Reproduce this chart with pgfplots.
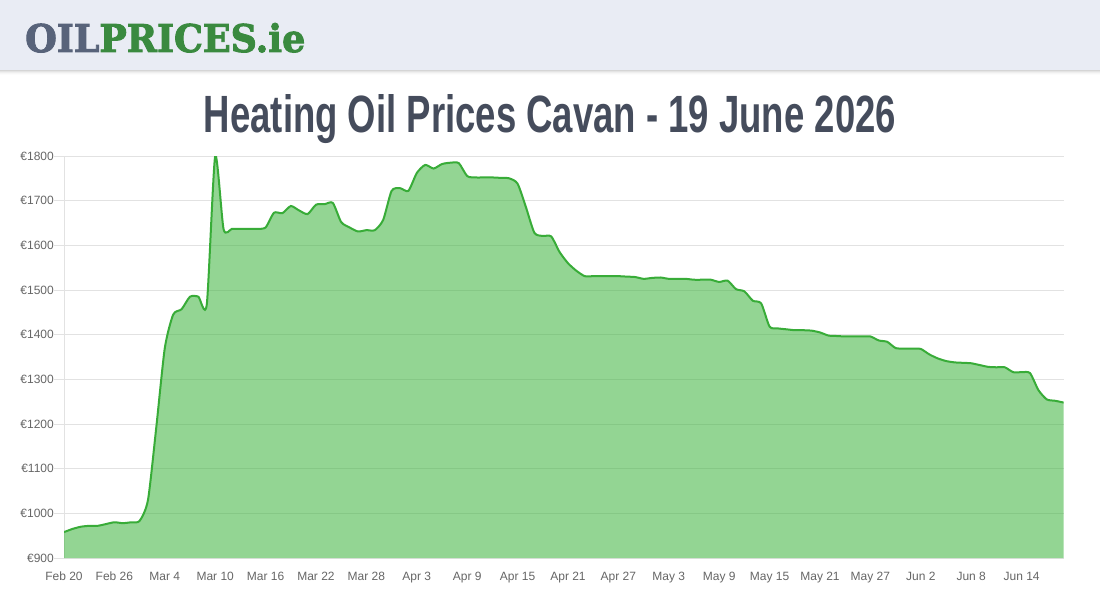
\documentclass[border=0pt]{standalone}
\usepackage{pgfplots}
\pgfplotsset{compat=1.18}
\usepackage{fontspec}
\setmainfont{Liberation Sans}
\newfontfamily\logofont[FakeBold=2.5]{DejaVu Serif}
\definecolor{hdr}{RGB}{233,236,244}
\definecolor{logogray}{RGB}{88,99,122}
\definecolor{logogreen}{RGB}{58,138,63}
\definecolor{titlecol}{RGB}{69,76,92}
\definecolor{tickcol}{RGB}{102,102,102}
\definecolor{gridcol}{RGB}{226,226,226}
\definecolor{linecol}{RGB}{56,172,56}
\definecolor{fillcol}{RGB}{60,180,60}
\pgfplotstableread{
d v
0 958
1 965
2 970
3 972
4 972
5 976
6 980
7 978
8 980
9 983
10 1030
11 1195
12 1370
13 1445
14 1457
15 1485
16 1485
17 1468
18 1800
19 1636
20 1637
21 1637
22 1637
23 1637
24 1640
25 1673
26 1672
27 1688
28 1678
29 1670
30 1691
31 1692
32 1695
33 1652
34 1640
35 1631
36 1634
37 1634
38 1657
39 1722
40 1728
41 1722
42 1762
43 1780
44 1772
45 1782
46 1785
47 1784
48 1755
49 1752
50 1752
51 1752
52 1751
53 1750
54 1738
55 1685
56 1628
57 1621
58 1620
59 1585
60 1560
61 1543
62 1531
63 1531
64 1531
65 1531
66 1531
67 1530
68 1529
69 1525
70 1527
71 1528
72 1525
73 1525
74 1525
75 1523
76 1523
77 1523
78 1518
79 1521
80 1502
81 1497
82 1476
83 1470
84 1418
85 1414
86 1412
87 1410
88 1410
89 1409
90 1405
91 1398
92 1397
93 1396
94 1396
95 1396
96 1396
97 1387
98 1384
99 1370
100 1369
101 1369
102 1368
103 1356
104 1347
105 1341
106 1338
107 1337
108 1336
109 1332
110 1328
111 1327
112 1327
113 1316
114 1316
115 1314
116 1276
117 1255
118 1252
119 1248
}\pricedata
\begin{document}
\begin{tikzpicture}
\path[fill=white] (0pt,0pt) rectangle (1100pt,600pt);
% header
\foreach \i/\o in {1/0.06,2/0.045,3/0.03,4/0.02,5/0.01}{
  \fill[black,opacity=\o] (0pt,{530pt-\i pt}) rectangle (1100pt,530pt);
}
\fill[hdr] (0pt,530pt) rectangle (1100pt,600pt);
\node[anchor=base west,inner sep=0pt] at (25pt,548pt)
  {\resizebox{280pt}{29pt}{\logofont\bfseries\textcolor{logogray}{OIL}\textcolor{logogreen}{PRICES.ie}}};
\node[anchor=base,inner sep=0pt] at (550pt,467pt)
  {\resizebox{692pt}{38pt}{\bfseries\color{titlecol}Heating Oil Prices Cavan - 19 June 2026}};
\begin{axis}[
  at={(64pt,42pt)}, anchor=south west,
  scale only axis, width=999.6pt, height=402pt,
  xmin=0, xmax=119, ymin=900, ymax=1800,
  axis lines*=left,
  axis line style={draw=gridcol, line width=1pt},
  ymajorgrids, grid style={draw=gridcol, line width=1pt},
  ytick={900,1000,...,1800},
  yticklabels={€900,€1000,€1100,€1200,€1300,€1400,€1500,€1600,€1700,€1800},
  xtick={0,6,...,114},
  xticklabels={Feb 20,Feb 26,Mar 4,Mar 10,Mar 16,Mar 22,Mar 28,Apr 3,Apr 9,Apr 15,Apr 21,Apr 27,May 3,May 9,May 15,May 21,May 27,Jun 2,Jun 8,Jun 14},
  tick align=outside,
  ytick style={draw=gridcol, line width=1pt},
  major tick length=10pt,
  xtick style={draw=none},
  ticklabel style={font=\fontsize{12}{14}\selectfont, text=tickcol},
  yticklabel style={anchor=east, inner sep=0pt},
  xticklabel style={anchor=north, inner sep=0pt, yshift=-4pt},
  clip=true,
]
\addplot[draw=none, fill=fillcol, fill opacity=0.55, smooth, tension=0.4] table[x=d,y=v] {\pricedata} \closedcycle;
\addplot[draw=linecol, line width=2pt, smooth, tension=0.4, mark=none] table[x=d,y=v] {\pricedata};
\end{axis}
\end{tikzpicture}
\end{document}
